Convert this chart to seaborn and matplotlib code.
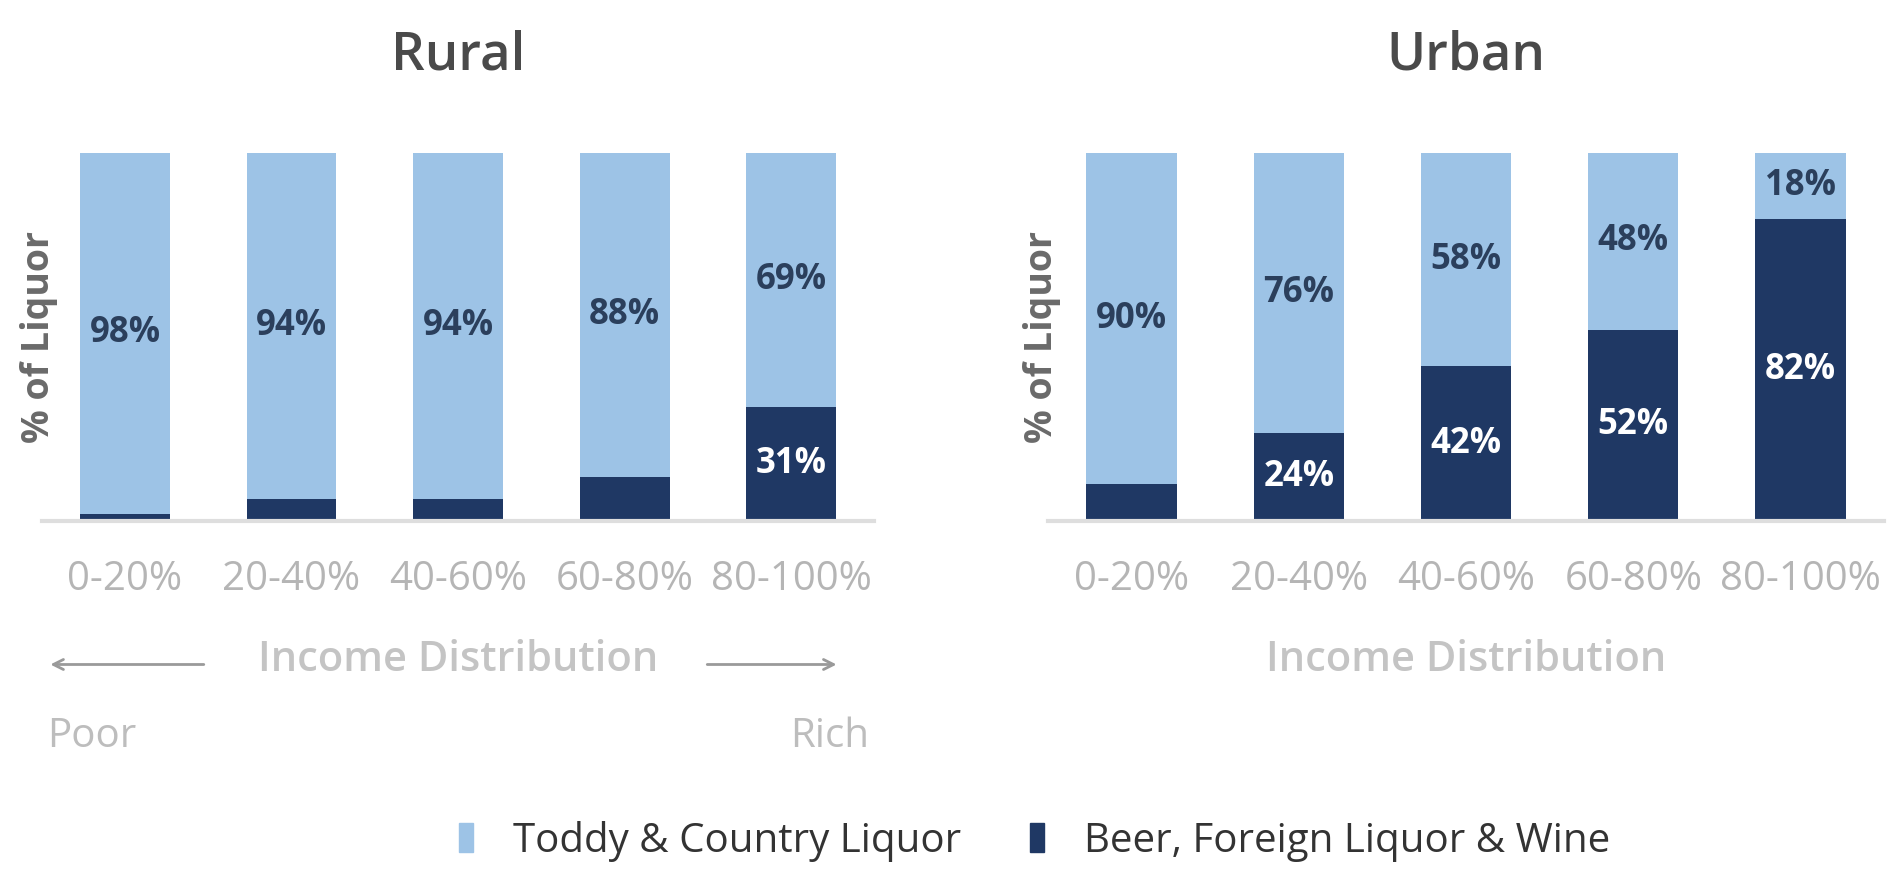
import seaborn as sns
import matplotlib.pyplot as plt
import pandas as pd

income_groups = ['0-20%', '20-40%', '40-60%', '60-80%', '80-100%']
rural_toddy = [98, 94, 94, 88, 69]
rural_beer = [2, 6, 6, 12, 31]
urban_toddy = [90, 76, 58, 48, 18]
urban_beer = [10, 24, 42, 52, 82]

LIGHT = '#9dc3e6'
DARK = '#1f3864'

sns.set_style('white')
plt.rcParams['font.family'] = ['Open Sans', 'DejaVu Sans']

fig = plt.figure(figsize=(18.88, 8.69), dpi=100)
ax_rural = fig.add_axes([0.0221, 0.4005, 0.441, 0.4235])
ax_urban = fig.add_axes([0.555, 0.4005, 0.443, 0.4235])


def draw_panel(ax, title, toddy, beer, ylabel_x):
    df = pd.DataFrame({'group': income_groups, 'toddy': toddy, 'beer': beer})
    df['total'] = df['toddy'] + df['beer']
    sns.barplot(data=df, x='group', y='total', color=LIGHT, saturation=1,
                width=0.54, errorbar=None, linewidth=0, ax=ax)
    sns.barplot(data=df, x='group', y='beer', color=DARK, saturation=1,
                width=0.54, errorbar=None, linewidth=0, ax=ax)

    # percentage labels centred in each segment (small segments left blank)
    for i, row in df.iterrows():
        if row['toddy'] >= 15:
            ax.text(i, row['beer'] + row['toddy'] / 2, f"{row['toddy']}%",
                    ha='center', va='center', fontsize=25, fontweight='bold',
                    color='#2b3f5c')
        if row['beer'] >= 15:
            ax.text(i, row['beer'] / 2, f"{row['beer']}%",
                    ha='center', va='center', fontsize=25, fontweight='bold',
                    color='white')

    ax.set_xlim(-0.5, 4.5)
    ax.set_ylim(0, 100)
    ax.set_yticks([])
    ax.tick_params(axis='x', length=0, pad=28, labelsize=29, labelcolor='#b5b5b5')
    for s in ['top', 'right', 'left']:
        ax.spines[s].set_visible(False)
    ax.spines['bottom'].set_color('#dedede')
    ax.spines['bottom'].set_linewidth(3)

    ax.set_title(title, fontsize=38, fontweight='semibold', color='#4a4a4a', pad=60)
    ax.set_xlabel('Income Distribution', fontsize=30, fontweight='semibold',
                  color='#c4c4c4', labelpad=28)
    ax.set_ylabel('% of Liquor', fontsize=27, fontweight='bold', color='#6a6a6a')
    ax.yaxis.set_label_coords(ylabel_x, 0.5)


draw_panel(ax_rural, 'Rural', rural_toddy, rural_beer, 0.02)
draw_panel(ax_urban, 'Urban', urban_toddy, urban_beer, 0.016)

# poor / rich arrows under the rural panel
arrow = dict(arrowstyle='->', color='#9a9a9a', lw=2, mutation_scale=18)
ax_rural.annotate('', xy=(0.007, -0.39), xytext=(0.198, -0.39),
                  xycoords='axes fraction', arrowprops=arrow, annotation_clip=False)
ax_rural.annotate('', xy=(0.958, -0.39), xytext=(0.796, -0.39),
                  xycoords='axes fraction', arrowprops=arrow, annotation_clip=False)
ax_rural.text(0.007, -0.585, 'Poor', transform=ax_rural.transAxes, ha='left',
              va='center', fontsize=29, color='#bdbdbd')
ax_rural.text(0.994, -0.585, 'Rich', transform=ax_rural.transAxes, ha='right',
              va='center', fontsize=29, color='#bdbdbd')

handles = [plt.Rectangle((0, 0), 1, 1, color=LIGHT),
           plt.Rectangle((0, 0), 1, 1, color=DARK)]
fig.legend(handles, ['Toddy & Country Liquor', 'Beer, Foreign Liquor & Wine'],
           loc='center', bbox_to_anchor=(0.548, 0.032), ncol=2, frameon=False,
           fontsize=29, handlelength=0.35, handleheight=0.75, handletextpad=1.0,
           columnspacing=1.7, labelcolor='#333333', borderpad=0)

fig.savefig('out.png', dpi=100, facecolor='white')
